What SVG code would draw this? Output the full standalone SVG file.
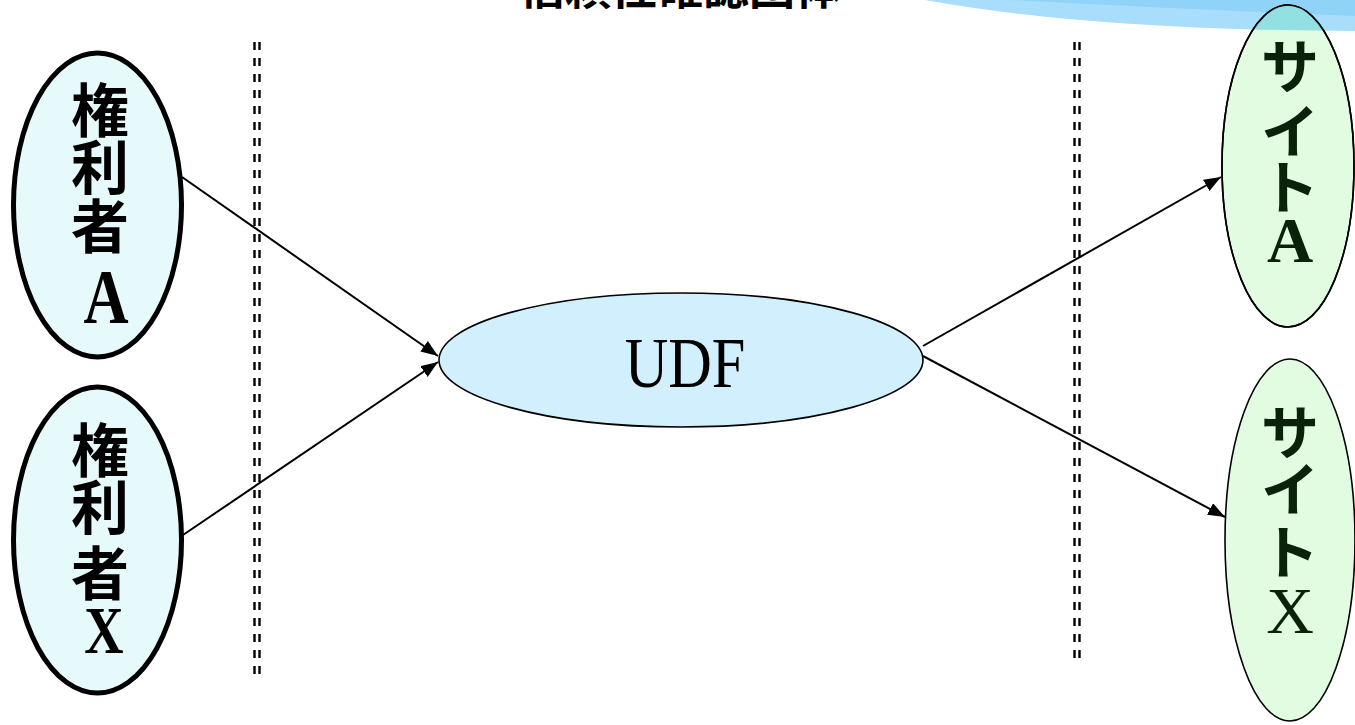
<svg xmlns="http://www.w3.org/2000/svg" width="1355" height="725" viewBox="0 0 1355 725">
  <style>
    .cjk { font-family: "Noto Sans CJK JP", sans-serif; font-weight: bold; text-anchor: middle; }
    .lat { font-family: "Liberation Serif", "Noto Sans CJK JP", serif; text-anchor: middle; }
    .holder { fill: #e6f9fb; stroke: #000; stroke-width: 5; }
    .site { fill: #e2fce2; stroke: #000; stroke-width: 1.6; }
    .site-text { fill: #0a220a; }
    .divider { stroke: #000; stroke-width: 2.4; stroke-dasharray: 8 8; fill: none; }
    .edge { stroke: #000; stroke-width: 2; fill: none; marker-end: url(#arrow); }
  </style>
  <defs>
    <marker id="arrow" markerUnits="userSpaceOnUse" markerWidth="18" markerHeight="14" refX="17" refY="6.5" orient="auto">
      <path d="M0,0 L17,6.5 L0,13 Z" fill="#000"/>
    </marker>
    <clipPath id="siteAClip">
      <ellipse cx="1288" cy="166" rx="66" ry="161"/>
    </clipPath>
  </defs>

  <rect width="1355" height="725" fill="#fff"/>

  <!-- decorative wave in the top right corner -->
  <g id="wave">
    <path d="M925,0 Q1090,30 1355,31 L1355,0 Z" fill="#a8ddfb"/>
    <path d="M1010,0 Q1200,10 1355,16 L1355,0 Z" fill="#8fd4f8"/>
  </g>

  <!-- title (runs off the top edge) -->
  <g id="title">
    <text x="680" y="4" class="cjk" font-size="46" fill="#000">信頼性確認団体</text>
  </g>

  <!-- boundary lines -->
  <g id="dividers">
    <line class="divider" x1="254.5" y1="42" x2="254.5" y2="674"/>
    <line class="divider" x1="259.5" y1="42" x2="259.5" y2="674"/>
    <line class="divider" x1="1074.5" y1="42" x2="1074.5" y2="659"/>
    <line class="divider" x1="1079.5" y1="42" x2="1079.5" y2="659"/>
  </g>

  <g id="holderA">
    <ellipse class="holder" cx="97.5" cy="205" rx="84" ry="152"/>
    <text class="cjk" font-size="58"><tspan x="100" y="132">権</tspan><tspan x="100" y="189">利</tspan><tspan x="100" y="248">者</tspan></text>
    <text class="lat" transform="translate(106,323) scale(0.8,1)" font-size="78" font-weight="bold">A</text>
  </g>

  <g id="holderX">
    <ellipse class="holder" cx="97.5" cy="540" rx="84" ry="153"/>
    <text class="cjk" font-size="58"><tspan x="100" y="472">権</tspan><tspan x="100" y="529">利</tspan><tspan x="100" y="595">者</tspan></text>
    <text class="lat" transform="translate(104,653) scale(0.8,1)" font-size="68" font-weight="bold">X</text>
  </g>

  <g id="udf">
    <ellipse cx="681" cy="360" rx="242" ry="67" fill="#d2effd" stroke="#000" stroke-width="1.6"/>
    <text class="lat" transform="translate(685,387) scale(0.85,1)" font-size="71" fill="#000">UDF</text>
  </g>

  <g id="siteA">
    <ellipse class="site" cx="1288" cy="166" rx="66" ry="161"/>
    <!-- wave tint where it passes over the node -->
    <path d="M925,0 Q1090,30 1355,31 L1355,0 Z" fill="#93e0e2" clip-path="url(#siteAClip)"/>
    <ellipse cx="1288" cy="166" rx="66" ry="161" fill="none" stroke="#000" stroke-width="1.6"/>
    <text class="cjk site-text" font-size="58"><tspan x="1290" y="88">サ</tspan><tspan x="1290" y="153">イ</tspan><tspan x="1290" y="209">ト</tspan></text>
    <text class="lat site-text" x="1290" y="262" font-size="64" font-weight="bold">A</text>
  </g>

  <g id="siteX">
    <ellipse class="site" cx="1290" cy="540" rx="65" ry="181"/>
    <text class="cjk site-text" font-size="58"><tspan x="1290" y="454">サ</tspan><tspan x="1290" y="511">イ</tspan><tspan x="1290" y="574">ト</tspan></text>
    <text class="lat site-text" x="1290" y="633" font-size="66">X</text>
  </g>

  <g id="connectors">
    <line class="edge" x1="182" y1="177" x2="438" y2="356"/>
    <line class="edge" x1="183" y1="535" x2="438" y2="362"/>
    <line class="edge" x1="923" y1="346" x2="1221" y2="177"/>
    <line class="edge" x1="923" y1="356" x2="1225" y2="517"/>
  </g>
</svg>
